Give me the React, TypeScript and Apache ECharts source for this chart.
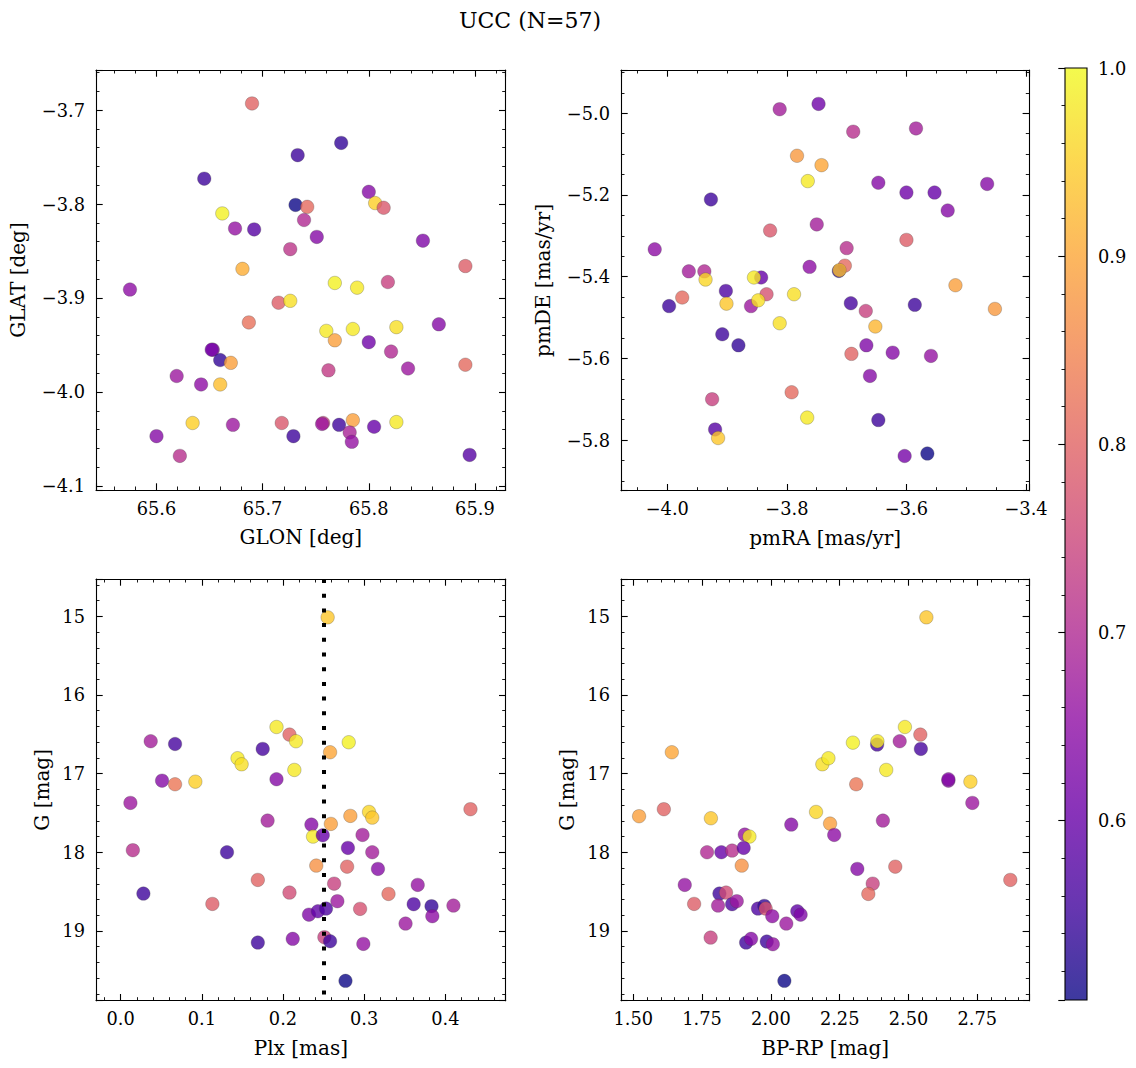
import React, { useEffect, useRef } from 'react';
import * as echarts from 'echarts';

const TITLE = 'UCC (N=57)';

// [GLON, GLAT, prob]
const posData = [
  [65.690, -3.693, 0.80], [65.774, -3.735, 0.54], [65.733, -3.748, 0.55], [65.645, -3.773, 0.55],
  [65.800, -3.787, 0.64], [65.806, -3.799, 0.95], [65.814, -3.804, 0.78], [65.731, -3.801, 0.505],
  [65.742, -3.803, 0.81], [65.662, -3.810, 0.99], [65.739, -3.817, 0.70], [65.674, -3.826, 0.66],
  [65.692, -3.827, 0.58], [65.751, -3.835, 0.64], [65.851, -3.839, 0.63], [65.726, -3.848, 0.72],
  [65.681, -3.869, 0.91], [65.891, -3.866, 0.79], [65.818, -3.883, 0.74], [65.768, -3.884, 0.99],
  [65.789, -3.889, 0.98], [65.575, -3.891, 0.65], [65.715, -3.905, 0.79], [65.726, -3.903, 0.97],
  [65.687, -3.926, 0.82], [65.866, -3.928, 0.64], [65.760, -3.935, 0.98], [65.785, -3.933, 0.98],
  [65.826, -3.931, 0.97], [65.768, -3.945, 0.89], [65.800, -3.947, 0.61], [65.653, -3.955, 0.64],
  [65.652, -3.955, 0.62], [65.821, -3.957, 0.70], [65.660, -3.966, 0.54], [65.670, -3.969, 0.89],
  [65.891, -3.971, 0.81], [65.837, -3.975, 0.67], [65.762, -3.977, 0.73], [65.619, -3.983, 0.67],
  [65.642, -3.992, 0.65], [65.660, -3.992, 0.93], [65.634, -4.033, 0.95], [65.672, -4.035, 0.67],
  [65.718, -4.033, 0.78], [65.757, -4.033, 0.74], [65.756, -4.034, 0.67], [65.772, -4.035, 0.55],
  [65.785, -4.030, 0.89], [65.805, -4.037, 0.60], [65.826, -4.032, 0.98], [65.782, -4.043, 0.69],
  [65.784, -4.053, 0.66], [65.600, -4.047, 0.64], [65.729, -4.047, 0.55], [65.622, -4.068, 0.71],
  [65.895, -4.067, 0.58],
];

// [pmRA, pmDE, prob]
const pmData = [
  [-3.812, -4.990, 0.68], [-3.747, -4.977, 0.61], [-3.689, -5.045, 0.71], [-3.584, -5.037, 0.68],
  [-3.783, -5.104, 0.88], [-3.742, -5.127, 0.90], [-3.765, -5.166, 0.98], [-3.647, -5.170, 0.64],
  [-3.465, -5.173, 0.64], [-3.600, -5.194, 0.61], [-3.553, -5.194, 0.60], [-3.927, -5.211, 0.55],
  [-3.531, -5.238, 0.64], [-3.750, -5.272, 0.68], [-3.828, -5.287, 0.78], [-3.600, -5.310, 0.79],
  [-3.700, -5.330, 0.71], [-4.021, -5.333, 0.65], [-3.964, -5.387, 0.68], [-3.938, -5.387, 0.70],
  [-3.762, -5.376, 0.65], [-3.703, -5.373, 0.81], [-3.713, -5.386, 0.53], [-3.712, -5.384, 0.93],
  [-3.936, -5.407, 0.96], [-3.843, -5.402, 0.60], [-3.855, -5.402, 0.98], [-3.518, -5.421, 0.89],
  [-3.902, -5.435, 0.57], [-3.834, -5.443, 0.77], [-3.788, -5.443, 0.97], [-3.975, -5.451, 0.81],
  [-3.997, -5.472, 0.55], [-3.901, -5.466, 0.94], [-3.860, -5.472, 0.67], [-3.848, -5.458, 0.97],
  [-3.693, -5.465, 0.56], [-3.586, -5.469, 0.55], [-3.452, -5.479, 0.88], [-3.668, -5.484, 0.74],
  [-3.812, -5.514, 0.97], [-3.652, -5.522, 0.92], [-3.908, -5.541, 0.55], [-3.881, -5.568, 0.54],
  [-3.667, -5.568, 0.63], [-3.692, -5.589, 0.80], [-3.623, -5.586, 0.64], [-3.559, -5.594, 0.66],
  [-3.661, -5.643, 0.64], [-3.792, -5.683, 0.81], [-3.925, -5.700, 0.74], [-3.766, -5.745, 0.98],
  [-3.647, -5.751, 0.55], [-3.920, -5.774, 0.58], [-3.915, -5.795, 0.94], [-3.603, -5.839, 0.62],
  [-3.565, -5.833, 0.505],
];

// [Plx, G, prob]
const plxData = [
  [0.255, 15.013, 0.94], [0.192, 16.407, 0.98], [0.208, 16.504, 0.80], [0.216, 16.588, 0.98],
  [0.281, 16.601, 0.99], [0.037, 16.588, 0.68], [0.067, 16.623, 0.56], [0.175, 16.686, 0.56],
  [0.258, 16.728, 0.90], [0.144, 16.804, 0.98], [0.149, 16.881, 0.97], [0.214, 16.953, 0.98],
  [0.192, 17.071, 0.64], [0.051, 17.089, 0.64], [0.067, 17.135, 0.83], [0.092, 17.102, 0.95],
  [0.431, 17.452, 0.80], [0.012, 17.372, 0.67], [0.306, 17.487, 0.96], [0.310, 17.559, 0.94],
  [0.283, 17.537, 0.89], [0.181, 17.597, 0.68], [0.235, 17.648, 0.64], [0.259, 17.639, 0.89],
  [0.237, 17.800, 0.98], [0.249, 17.783, 0.60], [0.298, 17.779, 0.68], [0.280, 17.944, 0.60],
  [0.015, 17.973, 0.71], [0.131, 17.999, 0.55], [0.310, 17.999, 0.68], [0.241, 18.169, 0.87],
  [0.279, 18.182, 0.80], [0.317, 18.211, 0.64], [0.169, 18.351, 0.80], [0.263, 18.398, 0.74],
  [0.366, 18.414, 0.66], [0.028, 18.525, 0.55], [0.208, 18.512, 0.76], [0.330, 18.529, 0.81],
  [0.267, 18.621, 0.67], [0.113, 18.656, 0.79], [0.361, 18.659, 0.57], [0.383, 18.685, 0.54],
  [0.410, 18.677, 0.68], [0.295, 18.719, 0.77], [0.232, 18.792, 0.63], [0.243, 18.749, 0.59],
  [0.253, 18.715, 0.57], [0.384, 18.812, 0.65], [0.351, 18.906, 0.67], [0.169, 19.147, 0.55],
  [0.212, 19.100, 0.64], [0.251, 19.079, 0.74], [0.258, 19.130, 0.55], [0.299, 19.164, 0.66],
  [0.277, 19.634, 0.505],
];

// [BP-RP, G, prob]
const cmdData = [
  [2.565, 15.013, 0.94], [1.640, 16.728, 0.90], [2.487, 16.407, 0.98], [2.543, 16.504, 0.80],
  [2.468, 16.588, 0.68], [2.298, 16.606, 0.99], [2.386, 16.631, 0.56], [2.387, 16.588, 0.98],
  [2.545, 16.686, 0.56], [2.187, 16.881, 0.97], [2.209, 16.804, 0.98], [2.419, 16.953, 0.98],
  [2.645, 17.089, 0.64], [2.645, 17.071, 0.64], [2.725, 17.102, 0.95], [2.310, 17.135, 0.83],
  [2.732, 17.372, 0.67], [1.611, 17.452, 0.80], [1.521, 17.541, 0.89], [1.782, 17.567, 0.94],
  [2.164, 17.487, 0.96], [2.215, 17.635, 0.89], [2.074, 17.648, 0.64], [2.407, 17.597, 0.68],
  [2.230, 17.779, 0.65], [1.905, 17.775, 0.66], [1.922, 17.800, 0.98], [1.768, 17.999, 0.70],
  [1.820, 17.999, 0.60], [1.859, 17.978, 0.71], [1.901, 17.944, 0.60], [1.894, 18.169, 0.87],
  [2.314, 18.211, 0.64], [2.452, 18.182, 0.80], [2.870, 18.351, 0.80], [2.370, 18.398, 0.74],
  [1.687, 18.414, 0.66], [2.354, 18.529, 0.81], [1.813, 18.525, 0.55], [1.837, 18.512, 0.76],
  [1.721, 18.656, 0.79], [1.808, 18.677, 0.68], [1.859, 18.659, 0.57], [1.876, 18.621, 0.67],
  [1.953, 18.715, 0.57], [1.976, 18.681, 0.54], [1.981, 18.715, 0.77], [2.005, 18.812, 0.65],
  [2.096, 18.749, 0.59], [2.108, 18.792, 0.63], [2.056, 18.906, 0.67], [1.781, 19.084, 0.74],
  [1.910, 19.147, 0.55], [1.928, 19.100, 0.64], [1.985, 19.134, 0.55], [2.007, 19.168, 0.66],
  [2.049, 19.634, 0.505],
];

const plxCut = 0.25;
const probMin = 0.5046;
const probMax = 1.0;
const plasma = ['#0d0887', '#41049d', '#6a00a8', '#8f0da4', '#b12a90', '#cc4778', '#e16462', '#f2844b', '#fca636', '#fcce25', '#f0f921'];

const FONT = "'DejaVu Serif', serif";
const TICK_FS = 17.8;
const NAME_FS = 20;

const fmt = (d: number) => (v: number) => {
  const s = Math.abs(v).toFixed(d);
  return v < 0 && Number(s) !== 0 ? '\u2212' + s : s;
};

const panels = [
  { data: posData, xName: 'GLON [deg]', yName: 'GLAT [deg]', x: [65.543, 65.929], y: [-4.1043, -3.6574], xIv: 0.1, yIv: 0.1, xMinor: 5, yMinor: 5, xDec: 1, yDec: 1, inv: false, rect: [96, 70, 409.7, 420], yGap: 68 },
  { data: pmData, xName: 'pmRA [mas/yr]', yName: 'pmDE [mas/yr]', x: [-4.0774, -3.3945], y: [-5.924, -4.894], xIv: 0.2, yIv: 0.2, xMinor: 4, yMinor: 4, xDec: 1, yDec: 1, inv: false, rect: [621, 70, 408.3, 420.7], yGap: 68 },
  { data: plxData, xName: 'Plx [mas]', yName: 'G [mag]', x: [-0.0304, 0.4744], y: [14.526, 19.886], xIv: 0.1, yIv: 1, xMinor: 5, yMinor: 5, xDec: 1, yDec: 0, inv: true, rect: [96, 579, 409.7, 421.7], yGap: 44 },
  { data: cmdData, xName: 'BP-RP [mag]', yName: 'G [mag]', x: [1.4553, 2.939], y: [14.526, 19.886], xIv: 0.25, yIv: 1, xMinor: 5, yMinor: 5, xDec: 2, yDec: 0, inv: true, rect: [621, 579, 408.3, 421.7], yGap: 44 },
];

const lineStyle = { color: '#000', width: 1.1 };

function makeAxis(gridIndex: number, pos: string, min: number, max: number, iv: number, minor: number, dec: number, showLabel: boolean, name: string, nameGap: number, inverse: boolean, isY: boolean) {
  return {
    type: 'value',
    gridIndex,
    position: pos,
    min,
    max,
    inverse,
    minInterval: iv,
    maxInterval: iv,
    splitNumber: 5,
    axisLine: { show: true, onZero: false, lineStyle },
    axisTick: { show: true, inside: true, length: 6.7, lineStyle },
    minorTick: { show: true, splitNumber: minor, length: 3.5, lineStyle: { color: '#000', width: 0.9 } },
    splitLine: { show: false },
    minorSplitLine: { show: false },
    axisLabel: {
      show: showLabel,
      margin: isY ? 11 : 9,
      color: '#000',
      fontFamily: FONT,
      fontSize: TICK_FS,
      formatter: fmt(dec),
      showMinLabel: false,
      showMaxLabel: false,
    },
    name: showLabel ? name : '',
    nameLocation: 'middle',
    nameGap,
    nameTextStyle: { color: '#000', fontFamily: FONT, fontSize: NAME_FS },
  };
}

export default function App() {
  const ref = useRef<HTMLDivElement>(null);
  useEffect(() => {
    if (!ref.current) return;
    const chart = echarts.init(ref.current, undefined, { renderer: 'svg' });
    const grids: any[] = [];
    const xAxes: any[] = [];
    const yAxes: any[] = [];
    const series: any[] = [];
    panels.forEach((p, i) => {
      grids.push({ left: p.rect[0], top: p.rect[1], width: p.rect[2], height: p.rect[3], containLabel: false });
      xAxes.push(makeAxis(i, 'bottom', p.x[0], p.x[1], p.xIv, p.xMinor, p.xDec, true, p.xName, 37, false, false));
      xAxes.push(makeAxis(i, 'top', p.x[0], p.x[1], p.xIv, p.xMinor, p.xDec, false, '', 0, false, false));
      yAxes.push(makeAxis(i, 'left', p.y[0], p.y[1], p.yIv, p.yMinor, p.yDec, true, p.yName, p.yGap, p.inv, true));
      yAxes.push(makeAxis(i, 'right', p.y[0], p.y[1], p.yIv, p.yMinor, p.yDec, false, '', 0, p.inv, true));
      const s: any = {
        type: 'scatter',
        xAxisIndex: 2 * i,
        yAxisIndex: 2 * i,
        data: p.data,
        symbol: 'circle',
        symbolSize: 13.5,
        itemStyle: { opacity: 0.8, borderColor: 'rgba(70,70,70,0.7)', borderWidth: 0.5 },
        emphasis: { disabled: true },
      };
      if (i === 2) {
        s.markLine = {
          silent: true,
          symbol: ['none', 'none'],
          label: { show: false },
          emphasis: { disabled: true },
          lineStyle: { color: '#000', width: 4, type: [4, 10.7], cap: 'butt' },
          data: [{ xAxis: plxCut }],
        };
      }
      series.push(s);
    });
    // colorbar
    const toRgba = (hex: string, a: number) => {
      const n = parseInt(hex.slice(1), 16);
      return `rgba(${(n >> 16) & 255},${(n >> 8) & 255},${n & 255},${a})`;
    };
    grids.push({
      left: 1065, top: 68, width: 22, height: 932, show: true,
      backgroundColor: new echarts.graphic.LinearGradient(0, 1, 0, 0, plasma.map((c, k) => ({ offset: k / (plasma.length - 1), color: toRgba(c, 0.8) }))),
      borderColor: '#000', borderWidth: 1.1,
    });
    xAxes.push({ type: 'value', gridIndex: 4, show: false, min: 0, max: 1 });
    yAxes.push({
      type: 'value', gridIndex: 4, position: 'right', min: probMin, max: probMax,
      minInterval: 0.1, maxInterval: 0.1,
      axisLine: { show: false },
      axisTick: { show: true, inside: true, length: 6.7, lineStyle },
      minorTick: { show: true, splitNumber: 5, length: 3.5, lineStyle: { color: '#000', width: 0.9 } },
      splitLine: { show: false },
      axisLabel: { show: true, margin: 11, color: '#000', fontFamily: FONT, fontSize: TICK_FS, formatter: fmt(1), showMinLabel: false, showMaxLabel: true },
    });

    chart.setOption({
      animation: false,
      backgroundColor: '#fff',
      title: {
        text: TITLE, left: 530, top: 9, textAlign: 'center', padding: 0,
        textStyle: { fontFamily: FONT, fontSize: 22, fontWeight: 'normal', color: '#000' },
      },
      grid: grids,
      xAxis: xAxes,
      yAxis: yAxes,
      visualMap: {
        type: 'continuous', show: false, min: probMin, max: probMax, dimension: 2,
        seriesIndex: [0, 1, 2, 3], inRange: { color: plasma },
      },
      series,
    });
    return () => chart.dispose();
  }, []);
  return <div ref={ref} style={{ position: 'absolute', left: 0, top: 0, width: 1136, height: 1068 }} />;
}
